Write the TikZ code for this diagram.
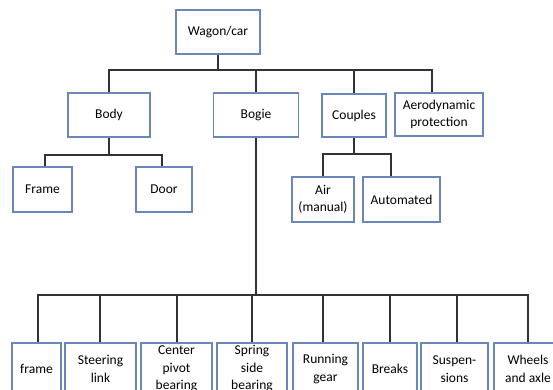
\documentclass[tikz,border=0pt]{standalone}
\usepackage{fontspec}
\setmainfont{Carlito}
\definecolor{boxblue}{RGB}{105,135,185}
\definecolor{linegrey}{RGB}{50,50,50}
\begin{document}
\begin{tikzpicture}[x=1pt,y=-1pt,
  box/.style={draw=boxblue,line width=1.2pt,fill=white,align=center,inner sep=0pt,
    font=\fontsize{13.5}{17.5}\selectfont},
  conn/.style={draw=linegrey,line width=1.6pt}]
\useasboundingbox (0,0) rectangle (553,390);
\clip (0,0) rectangle (553,390);
% top
\node[box,minimum width=84pt,minimum height=44pt] (wagon) at (218,32) {Wagon/car};
% level 2
\node[box,minimum width=82pt,minimum height=44pt] (body) at (109,115) {Body};
\node[box,minimum width=85pt,minimum height=44pt] (bogie) at (256,115) {Bogie};
\node[box,minimum width=64pt,minimum height=43pt] (couples) at (354,115.5) {Couples};
\node[box,minimum width=88pt,minimum height=43pt] (aero) at (439,114.5) {Aerodynamic\\protection};
% level 3
\node[box,minimum width=59pt,minimum height=45pt] (frameA) at (42.5,189.5) {Frame};
\node[box,minimum width=56pt,minimum height=45pt] (door) at (164,189.5) {Door};
\node[box,minimum width=62pt,minimum height=45pt] (air) at (323,199.5) {Air\\(manual)};
\node[box,minimum width=77pt,minimum height=45pt] (auto) at (401.5,199.5) {Automated};
% bottom row
\node[box,minimum width=49pt,minimum height=52pt] (frameB) at (36.5,369) {frame};
\node[box,minimum width=71pt,minimum height=52pt] (steer) at (100.5,369) {Steering\\link};
\node[box,minimum width=71pt,minimum height=52pt] (pivot) at (176.5,369) {Center\\pivot\\bearing};
\node[box,minimum width=70pt,minimum height=52pt] (spring) at (252,369) {Spring\\side\\bearing};
\node[box,minimum width=65pt,minimum height=52pt] (running) at (325.5,369) {Running\\gear};
\node[box,minimum width=54pt,minimum height=52pt] (breaks) at (390,369) {Breaks};
\node[box,minimum width=67pt,minimum height=52pt] (susp) at (454.5,369) {Suspen-\\sions};
\node[box,minimum width=68pt,minimum height=52pt] (wheels) at (528,369) {Wheels\\and axle};
% bus coordinates
\coordinate (busA) at (0,70);
\coordinate (busB) at (0,155);
\coordinate (busC) at (0,154);
\coordinate (busD) at (0,295);
% connectors level 1
\draw[conn] (wagon.south) -- (wagon.south |- busA);
\draw[conn] (body.north) |- ([xshift=-7pt]aero.north |- busA) -- ([xshift=-7pt]aero.north);
\draw[conn] (bogie.north) -- (bogie.north |- busA);
\draw[conn] (couples.north) -- (couples.north |- busA);
% body children
\draw[conn] (body.south) -- (body.south |- busB);
\draw[conn] ([xshift=2.5pt]frameA.north) |- ([xshift=-2pt]door.north |- busB) -- ([xshift=-2pt]door.north);
% couples children
\draw[conn] (couples.south) -- (couples.south |- busC);
\draw[conn] (air.north) |- ([xshift=-10.5pt]auto.north |- busC) -- ([xshift=-10.5pt]auto.north);
% bogie children
\draw[conn] (bogie.south) -- (bogie.south |- busD);
\draw[conn] ([xshift=1.5pt]frameB.north) |- (wheels.north |- busD) -- (wheels.north);
\draw[conn] ([xshift=-0.5pt]steer.north) -- ([xshift=-0.5pt]steer.north |- busD);
\draw[conn] ([xshift=0.5pt]pivot.north) -- ([xshift=0.5pt]pivot.north |- busD);
\draw[conn] (spring.north) -- (spring.north |- busD);
\draw[conn] ([xshift=-2.5pt]running.north) -- ([xshift=-2.5pt]running.north |- busD);
\draw[conn] (breaks.north) -- (breaks.north |- busD);
\draw[conn] ([xshift=2.5pt]susp.north) -- ([xshift=2.5pt]susp.north |- busD);
\end{tikzpicture}
\end{document}
